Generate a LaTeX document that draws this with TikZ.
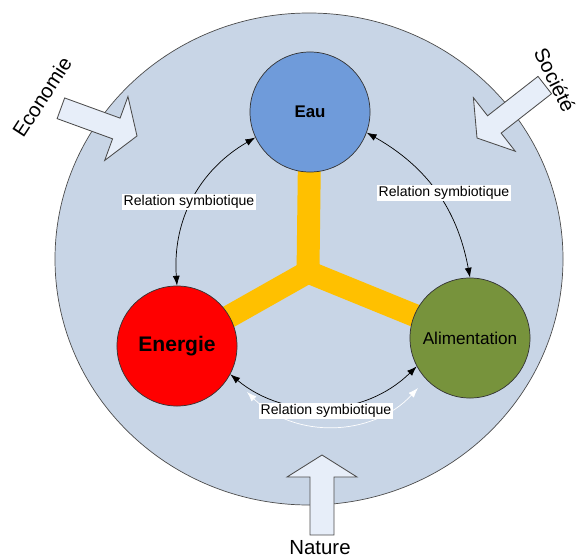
\documentclass[tikz,border=0pt]{standalone}
\usepackage{fontspec}
\setmainfont{Liberation Sans}
\usepackage{tikz}
\usetikzlibrary{arrows.meta}

\definecolor{fondbleu}{HTML}{C8D5E6}
\definecolor{eaubleu}{HTML}{6F9BDA}
\definecolor{alimvert}{HTML}{77933C}
\definecolor{jaune}{HTML}{FFC000}
\definecolor{flechefond}{HTML}{E7EEF9}

\tikzset{
	cercle/.style={circle, draw=black!80, line width=0.5pt, minimum size=3cm, inner sep=0pt},
	relation/.style={fill=white, inner sep=1pt, font=\fontsize{10}{12}\selectfont},
	fleche/.style={draw=black!70, fill=flechefond, line width=0.6pt, line join=miter},
	lien/.style={<->, >={Latex[length=7pt,width=5pt]}, line width=0.5pt},
	grand/.style={font=\fontsize{14.5}{17}\selectfont}
}

% grosse fleche : pointe, angle, longueur, demi-tete, demi-corps
\newcommand{\grossefleche}[5]{%
	\draw[fleche, shift={#1}, rotate=#2] (0,0) -- (-22,#4) -- (-22,#5) -- (-#3,#5)
		-- (-#3,-#5) -- (-22,-#5) -- (-22,-#4) -- cycle;}

\begin{document}
\begin{tikzpicture}[x=0.025cm, y=-0.025cm]
	\useasboundingbox (0,0) rectangle (578,559);

	\fill[fondbleu, draw=black!70, line width=0.5pt] (309,259) ellipse [x radius=254, y radius=246];

	\grossefleche{(137,136)}{-20}{81}{34}{11}
	\grossefleche{(477,138)}{218}{86}{34}{11}
	\grossefleche{(322,455)}{90}{80}{35}{12}

	\node[grand, rotate=57]  (economie) at (42,97)  {Economie};
	\node[grand, rotate=-64] (societe)  at (555,80) {Société};
	\node[grand]             (nature)   at (320,548) {Nature};

	\coordinate (c-eau)     at (310,112);
	\coordinate (c-energie) at (177,346);
	\coordinate (c-alim)    at (470,338);
	\coordinate (jonction)  at (308,272);

	\draw[jaune, line width=16.3pt] (c-energie) -- (jonction) -- (c-alim);
	\draw[jaune, line width=16.3pt] (c-eau) -- (jonction);

	\node[cercle, fill=eaubleu, font=\bfseries\fontsize{12}{14}\selectfont] (eau) at (c-eau) {Eau};
	\node[cercle, fill=red, font=\bfseries\fontsize{15}{18}\selectfont] (energie) at (c-energie) {Energie};
	\node[cercle, fill=alimvert, font=\fontsize{12.2}{14}\selectfont] (alim) at (c-alim) {Alimentation};

	\draw[lien] (eau.205) to[bend right=32] (energie.90);
	\draw[lien] (eau.340) to[bend left=25] (alim.90);
	\draw[lien] (energie.332) to[bend right=42] (alim.208);

	\coordinate (blanc-g) at (247,392);
	\coordinate (blanc-d) at (418,388);
	\draw[lien, white] (blanc-g) to[bend right=46] (blanc-d);

	\node[relation] (rel-gauche) at (189,202) {Relation symbiotique};
	\node[relation] (rel-droite) at (444,193) {Relation symbiotique};
	\node[relation] (rel-bas)    at (326,411) {Relation symbiotique};
\end{tikzpicture}
\end{document}
